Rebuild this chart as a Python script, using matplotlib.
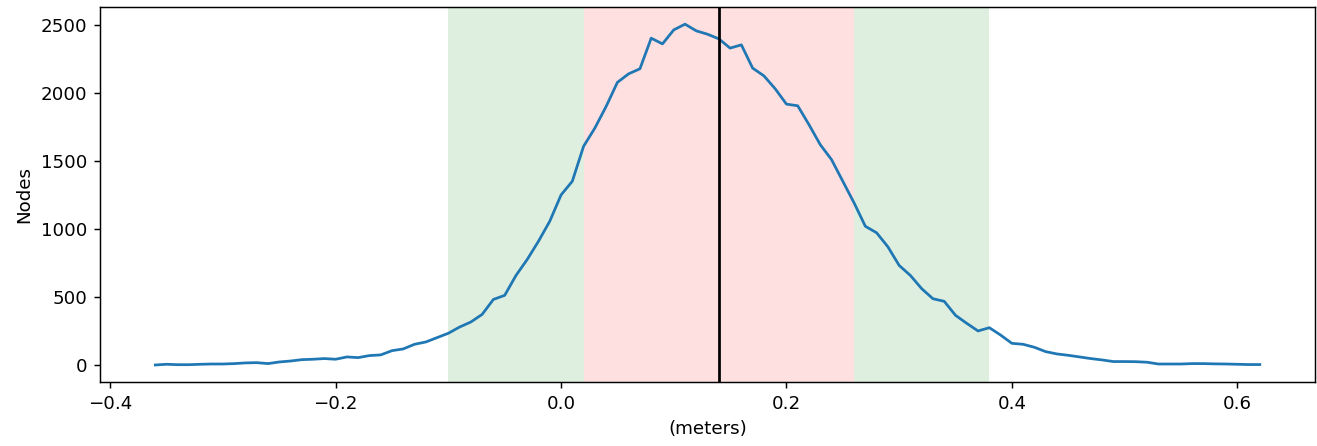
import numpy as np
import matplotlib
matplotlib.use("Agg")
import matplotlib.pyplot as plt

# bin centres (meters) and node counts
x_start, x_step = -0.36, 0.01
nodes = [0, 5, 2, 2, 5, 7, 7, 10, 15, 17,
         10, 22, 29, 39, 42, 47, 42, 59, 54, 69,
         74, 105, 118, 152, 169, 201, 233, 279, 316, 372,
         482, 512, 658, 776, 910, 1057, 1250, 1351, 1608, 1742,
         1901, 2078, 2141, 2178, 2403, 2361, 2464, 2506, 2457, 2432,
         2398, 2330, 2354, 2183, 2126, 2031, 1918, 1906, 1767, 1620,
         1510, 1351, 1192, 1020, 972, 869, 732, 658, 561, 487,
         468, 365, 306, 250, 274, 220, 159, 152, 130, 98,
         81, 71, 59, 47, 37, 25, 25, 24, 20, 7,
         7, 7, 10, 10, 8, 7, 5, 3, 3]
meters = x_start + x_step * np.arange(len(nodes))

mean_x = 0.14
inner_band = (0.02, 0.26)
outer_band = (-0.10, 0.38)

fig = plt.figure(figsize=(10, 3.3865), dpi=131.7)
ax = fig.add_axes([0.076, 0.1435, 0.9225, 0.8405])

ax.axvspan(outer_band[0], inner_band[0], color="green", alpha=0.125, lw=0)
ax.axvspan(inner_band[1], outer_band[1], color="green", alpha=0.125, lw=0)
ax.axvspan(inner_band[0], inner_band[1], color="red", alpha=0.12, lw=0)
ax.plot(meters, nodes, color="C0")
ax.axvline(mean_x, color="k", lw=1.5)

ax.set_xlabel("(meters)")
ax.set_ylabel("Nodes")

fig.savefig("out.png")
